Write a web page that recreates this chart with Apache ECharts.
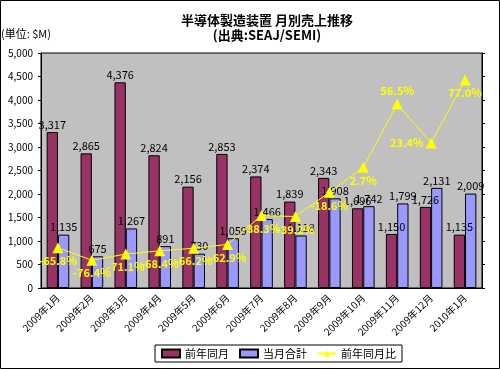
<!DOCTYPE html>
<html><head><meta charset="utf-8">
<script src="https://cdn.jsdelivr.net/npm/echarts@6/dist/echarts.min.js"></script>
<style>html,body{margin:0;padding:0;background:#fff}#c{width:500px;height:369px}</style>
</head><body><div id="c"></div>
<script>
const categories = ['2009年1月','2009年2月','2009年3月','2009年4月','2009年5月','2009年6月','2009年7月','2009年8月','2009年9月','2009年10月','2009年11月','2009年12月','2010年1月'];
const prevYear = [3317, 2865, 4376, 2824, 2156, 2853, 2374, 1839, 2343, 1696, 1150, 1726, 1135];
const currentMonth = [1135, 675, 1267, 891, 730, 1059, 1466, 1118, 1908, 1742, 1799, 2131, 2009];
const yoyRatio = [-65.8, -76.4, -71.1, -68.4, -66.2, -62.9, -38.3, -39.2, -18.6, 2.7, 56.5, 23.4, 77.0];
const ratioLabelPos = ['bottom','bottom','bottom','bottom','bottom','bottom','bottom','bottom','bottom','bottom','top','left','bottom'];
const yTicks = [0, 500, 1000, 1500, 2000, 2500, 3000, 3500, 4000, 4500, 5000];

const FONT = '"Noto Sans CJK JP", sans-serif';
const fmt = v => Number(v).toLocaleString('en-US');
const chart = echarts.init(document.getElementById('c'), null, {renderer: 'canvas'});
chart.setOption({
  animation: false,
  textStyle: {fontFamily: FONT},
  title: {
    text: '半導体製造装置 月別売上推移\n(出典:SEAJ/SEMI)',
    left: 262, top: 8, textAlign: 'center',
    textStyle: {fontSize: 13, fontWeight: 'bold', color: '#000', lineHeight: 15, fontFamily: FONT}
  },
  graphic: [
    {type: 'rect', shape: {x: 0.5, y: 0.5, width: 499, height: 368}, style: {fill: 'none', stroke: '#000', lineWidth: 1}, silent: true},
    {type: 'text', left: 1, top: 28, style: {text: '(単位: $M)', fontSize: 11, fill: '#000', fontFamily: FONT}}
  ],
  legend: {
    left: 155, top: 345,
    padding: [3, 6], itemGap: 10,
    borderColor: '#000', borderWidth: 1,
    itemWidth: 18, itemHeight: 8,
    textStyle: {fontSize: 11, color: '#000', fontFamily: FONT},
    data: [
      {name: '前年同月', icon: 'rect'},
      {name: '当月合計', icon: 'rect'},
      {name: '前年同月比'}
    ]
  },
  grid: {left: 41, right: 18, top: 53, bottom: 81, show: true, backgroundColor: '#C0C0C0', borderColor: '#000', borderWidth: 1},
  xAxis: {
    type: 'category', data: categories,
    axisLine: {lineStyle: {color: '#000'}},
    axisTick: {inside: true, length: 4, lineStyle: {color: '#000'}},
    axisLabel: {rotate: 45, fontSize: 10, color: '#000', margin: 8, fontFamily: FONT}
  },
  yAxis: [
    {
      type: 'value', min: 0, max: 5000, interval: 500,
      splitLine: {show: false},
      axisLine: {show: true, lineStyle: {color: '#000'}},
      axisTick: {show: true, length: 3, lineStyle: {color: '#000'}},
      axisLabel: {fontSize: 10, color: '#000', margin: 8, formatter: v => yTicks.includes(v) ? fmt(v) : '', fontFamily: FONT}
    },
    {
      type: 'value', min: -100, max: 100, interval: 20, position: 'right',
      splitLine: {show: false},
      axisLine: {show: true, lineStyle: {color: '#000'}},
      axisTick: {show: true, length: 3, lineStyle: {color: '#000'}},
      axisLabel: {show: false}
    }
  ],
  series: [
    {
      name: '前年同月', type: 'bar', data: prevYear,
      barGap: '0%', barCategoryGap: '33.3%',
      itemStyle: {color: '#993366', borderColor: '#000', borderWidth: 1},
      label: {show: true, position: 'top', distance: 2, fontSize: 11, color: '#000', formatter: p => fmt(p.value), fontFamily: FONT}
    },
    {
      name: '当月合計', type: 'bar', data: currentMonth,
      itemStyle: {color: '#9999FF', borderColor: '#000', borderWidth: 1},
      label: {show: true, position: 'top', distance: 2, fontSize: 11, color: '#000', formatter: p => fmt(p.value), fontFamily: FONT}
    },
    {
      name: '前年同月比', type: 'line', yAxisIndex: 1,
      data: yoyRatio.map((v, i) => ({value: v, label: {position: ratioLabelPos[i]}})),
      symbol: 'triangle', symbolSize: 11,
      lineStyle: {color: '#FFFF00', width: 1},
      itemStyle: {color: '#FFFF00'},
      label: {show: true, fontSize: 11, fontWeight: 'bold', color: '#FFFF00', distance: 2,
        formatter: p => p.value.toFixed(1) + '%', fontFamily: FONT}
    }
  ]
});
</script></body></html>
